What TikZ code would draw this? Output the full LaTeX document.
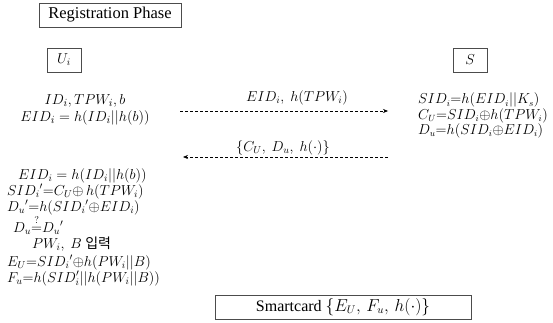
\documentclass[tikz,border=0pt]{standalone}
\usepackage{amsmath}
\usepackage{fontspec}
\setmainfont{Liberation Serif}
\newfontfamily\krfont{Noto Sans CJK KR}
\usetikzlibrary{arrows.meta}

\begin{document}
\begin{tikzpicture}[x=1pt,y=-1pt,
  every node/.style={inner sep=0pt, font=\fontsize{14.5}{16}\selectfont},
  framebox/.style={draw=black!70, line width=0.8pt, minimum height=24pt},
  msg/.style={densely dashed, line width=0.6pt, -{Stealth[length=5pt,width=4pt]}},
  block/.style={align=left, anchor=north west}]
\useasboundingbox (0,0) rectangle (553,323);

% headers
\node[framebox, minimum width=142pt, font=\fontsize{16.5}{17}\selectfont] (phase) at (110,15) {Registration Phase};
\node[framebox, minimum width=34pt] (user) at (64,60) {$U_i$};
\node[framebox, minimum width=34pt] (server) at (470,60) {$S$};

% user: first step
\node[align=center, anchor=north, font=\fontsize{15}{17}\selectfont] (uin) at (85,94)
  {$ID_i, TPW_i, b$\\ $EID_i = h(ID_i||h(b))$};

% messages
\coordinate (m1s) at (180,111);
\coordinate (m1e) at (388,111);
\coordinate (m2s) at (388,157);
\coordinate (m2e) at (183,157);
\draw[msg] (m1s) -- (m1e);
\draw[msg] (m2s) -- (m2e);
\node (l1) at (297,98) {$EID_i,\ h(TPW_i)$};
\node (l2) at (283,148) {$\{C_U,\ D_u,\ h(\cdot)\}$};

% server computations
\node[block, font=\fontsize{13.5}{14}\selectfont] (srv) at (418,93)
  {$SID_i{=}h(EID_i||K_s)$\\
   $C_U{=}SID_i{\oplus}h(TPW_i)$\\
   $D_u{=}h(SID_i{\oplus}EID_i)$};

% user: verification and smartcard update
\node[block, font=\fontsize{14}{16}\selectfont] (ver) at (7,168)
  {\hspace*{11pt}$EID_i = h(ID_i||h(b))$\\
   $SID_i{}'{=}C_U{\oplus}\, h(TPW_i)$\\
   $D_u{}'{=}h(SID_i{}'{\oplus}EID_i)$\\
   \hspace*{6pt}$D_u{\overset{?}{=}}D_u{}'$\\
   \hspace*{25pt}$PW_i,\ B$ {\krfont 입력}\\[2pt]
   $E_U{=}SID_i{}'{\oplus}h(PW_i||B)$\\
   $F_u{=}h(SID_i'||h(PW_i||B))$};

\node[framebox, minimum width=256pt, font=\fontsize{16}{17}\selectfont] (card) at (343,307)
  {Smartcard $\{E_U,\, F_u,\, h(\cdot)\}$};
\end{tikzpicture}
\end{document}
